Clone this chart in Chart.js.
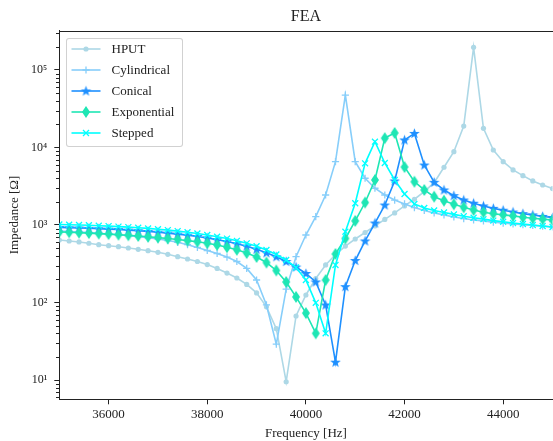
<!DOCTYPE html>
<html>
<head>
<meta charset="utf-8">
<script src="https://cdn.jsdelivr.net/npm/chart.js@4.4.1/dist/chart.umd.min.js"></script>
<style>
  html, body { margin: 0; padding: 0; background: #ffffff; overflow: hidden; width: 553px; height: 441px; }
  #wrap { position: relative; width: 558px; height: 441px; }
  #c { display: block; }
  #legend {
    position: absolute; left: 65.5px; top: 37.5px; width: 115px; height: 107px;
    border: 1px solid rgba(204,204,204,0.9); border-radius: 3px; background: rgba(255,255,255,0.85);
    font-family: 'Liberation Serif', serif; font-size: 13px; color: #222;
  }
  .row { position: absolute; left: 0; height: 16px; width: 115px; }
  .row canvas { position: absolute; left: 4px; top: 0; }
  .row span { position: absolute; left: 45px; top: 0; line-height: 16px; white-space: nowrap; }
</style>
</head>
<body>
<div id="wrap">
  <canvas id="c" width="558" height="441" style="width:558px;height:441px"></canvas>
  <div id="legend"></div>
</div>
<script>
// ---------------- data ----------------
const frequencies = [35000, 35200, 35400, 35600, 35800, 36000, 36200, 36400, 36600, 36800,
  37000, 37200, 37400, 37600, 37800, 38000, 38200, 38400, 38600, 38800,
  39000, 39200, 39400, 39600, 39800, 40000, 40200, 40400, 40600, 40800,
  41000, 41200, 41400, 41600, 41800, 42000, 42200, 42400, 42600, 42800,
  43000, 43200, 43400, 43600, 43800, 44000, 44200, 44400, 44600, 44800, 45000];

const seriesNames = ['HPUT', 'Cylindrical', 'Conical', 'Exponential', 'Stepped'];

const hput = [640, 622, 604, 581, 557, 541, 525, 505, 486, 466,
  444, 419, 390, 364, 338, 309, 275, 240, 207, 171,
  133, 88, 46, 9.5, 67, 125, 204, 305, 416, 535,
  660, 800, 970, 1180, 1430, 1760, 2150, 2690, 3520, 5560,
  8830, 18900, 196000, 17700, 9290, 6560, 5130, 4330, 3700, 3280, 2950];

const cylindrical = [837, 825, 813, 798, 782, 765, 748, 728, 707, 684,
  660, 631, 598, 557, 513, 469, 429, 386, 338, 275,
  195, 93, 29, 149, 390, 743, 1280, 2440, 6560, 47500,
  6560, 4010, 2980, 2440, 2100, 1870, 1680, 1540, 1430, 1350,
  1270, 1210, 1160, 1130, 1090, 1060, 1030, 1010, 986, 966, 942];

const conical = [929, 923, 915, 906, 896, 885, 873, 859, 844, 827,
  807, 786, 763, 738, 711, 680, 646, 611, 572, 531,
  486, 437, 389, 338, 287, 237, 184, 93, 17, 160,
  348, 622, 1060, 1810, 3700, 12500, 15200, 5940, 3560, 2830,
  2390, 2100, 1910, 1760, 1640, 1550, 1470, 1400, 1350, 1290, 1250];

const exponential = [813, 805, 796, 786, 774, 763, 750, 737, 722, 705,
  688, 670, 650, 629, 609, 582, 552, 517, 479, 435,
  387, 328, 259, 184, 118, 73, 40, 195, 423, 670,
  1130, 1950, 3810, 13200, 15400, 5600, 3620, 2830, 2320, 2060,
  1850, 1690, 1560, 1460, 1400, 1350, 1310, 1260, 1220, 1190, 1160];

const stepped = [1014, 1009, 1000, 991, 980, 968, 953, 939, 923, 904,
  883, 859, 834, 807, 777, 743, 706, 668, 625, 580,
  531, 476, 416, 353, 283, 195, 99, 40, 305, 820,
  1910, 6250, 11900, 6310, 3810, 2510, 1870, 1660, 1540, 1450,
  1370, 1300, 1240, 1190, 1140, 1100, 1060, 1030, 1000, 971, 942];

const xTickValues = [36000, 38000, 40000, 42000, 44000];
const yTickValues = [10, 100, 1000, 10000, 100000];
const yTickLabels = ['10\u00B9', '10\u00B2', '10\u00B3', '10\u2074', '10\u2075'];

const titleText = 'FEA';
const xTitle = 'Frequency [Hz]';
const yTitle = 'Impedance [\u03A9]';

// ---------------- styles ----------------
const colors = ['#add8e6', '#87cefa', '#1e90ff', '#1ee6b4', '#00ffff'];

function makeStar(color) {
  const c = document.createElement('canvas');
  c.width = 13; c.height = 13;
  const g = c.getContext('2d');
  const cx = 6.5, cy = 6.8, R = 5.6, r = 2.3;
  g.beginPath();
  for (let i = 0; i < 10; i++) {
    const a = -Math.PI / 2 + i * Math.PI / 5;
    const rad = i % 2 ? r : R;
    const px = cx + rad * Math.cos(a), py = cy + rad * Math.sin(a);
    if (i === 0) g.moveTo(px, py); else g.lineTo(px, py);
  }
  g.closePath();
  g.fillStyle = color; g.fill();
  return c;
}
function makeDiamond(color) {
  const c = document.createElement('canvas');
  c.width = 10; c.height = 14;
  const g = c.getContext('2d');
  g.beginPath();
  g.moveTo(5, 1); g.lineTo(9, 7); g.lineTo(5, 13); g.lineTo(1, 7); g.closePath();
  g.fillStyle = color; g.fill();
  return c;
}

const starImg = makeStar(colors[2]);
const diamondImg = makeDiamond(colors[3]);

const pointStyles = ['circle', 'cross', starImg, diamondImg, 'crossRot'];
const pointRadii = [2.6, 3.6, 5, 5, 4.2];
const seriesData = [hput, cylindrical, conical, exponential, stepped];

const datasets = seriesNames.map((name, i) => ({
  label: name,
  data: frequencies.map((f, k) => ({ x: f, y: seriesData[i][k] })),
  borderColor: colors[i],
  backgroundColor: colors[i],
  borderWidth: 1.6,
  pointStyle: pointStyles[i],
  pointRadius: pointRadii[i],
  pointBorderWidth: (i === 1 || i === 4) ? 1.3 : 0,
  pointBorderColor: colors[i],
  pointBackgroundColor: colors[i],
  tension: 0,
  order: 5 - i
}));

// ---------------- axis decorations (top spine, minor log ticks) ----------------
const axisDecor = {
  id: 'axisDecor',
  afterDraw(chart) {
    const { ctx, chartArea: a, scales } = chart;
    const y = scales.y;
    ctx.save();
    ctx.strokeStyle = '#222';
    ctx.lineWidth = 1;
    ctx.beginPath();
    const ty = Math.round(a.top) + 0.5;
    ctx.moveTo(Math.round(a.left), ty);
    ctx.lineTo(a.right + 4, ty);
    ctx.stroke();
    ctx.beginPath();
    for (let n = 0; n <= 5; n++) {
      for (let m = 2; m <= 9; m++) {
        const v = m * Math.pow(10, n);
        if (v > y.min && v < y.max) {
          const py = Math.round(y.getPixelForValue(v)) + 0.5;
          ctx.moveTo(Math.round(a.left) - 3, py);
          ctx.lineTo(Math.round(a.left), py);
        }
      }
    }
    ctx.stroke();
    ctx.restore();
  }
};

Chart.defaults.font.family = "'Liberation Serif', serif";
Chart.defaults.color = '#222';

new Chart(document.getElementById('c'), {
  type: 'line',
  data: { datasets },
  options: {
    responsive: false,
    animation: false,
    devicePixelRatio: 1,
    layout: { padding: { left: 0, right: 1.2, top: 0, bottom: 0 } },
    plugins: {
      legend: { display: false },
      tooltip: { enabled: false },
      title: {
        display: true,
        text: titleText,
        fullSize: false,
        color: '#222',
        font: { size: 16, weight: 'normal', lineHeight: 1.2 },
        padding: { top: 7, bottom: 4.5 }
      }
    },
    scales: {
      x: {
        type: 'linear',
        min: 35000,
        max: 45000,
        afterFit: s => { s.height = 41.7; },
        afterBuildTicks: s => { s.ticks = xTickValues.map(v => ({ value: v })); },
        grid: { drawOnChartArea: false, drawTicks: true, tickLength: 5, tickColor: '#222', tickWidth: 1 },
        border: { display: true, color: '#222', width: 1 },
        ticks: {
          autoSkip: false, maxRotation: 0, padding: 2, color: '#222',
          font: { size: 13 },
          callback: v => String(v)
        },
        title: {
          display: true, text: xTitle, color: '#222',
          font: { size: 13, lineHeight: 1.2 },
          padding: { top: 0, bottom: 0 }
        }
      },
      y: {
        type: 'logarithmic',
        min: 5.636,
        max: 321400,
        afterFit: s => { s.width = 59.3; },
        afterBuildTicks: s => { s.ticks = yTickValues.map(v => ({ value: v })); },
        grid: { drawOnChartArea: false, drawTicks: true, tickLength: 5, tickColor: '#222', tickWidth: 1 },
        border: { display: true, color: '#222', width: 1 },
        ticks: {
          autoSkip: false, padding: 7, color: '#222',
          font: { size: 12 },
          callback: v => {
            const i = yTickValues.indexOf(v);
            return i >= 0 ? yTickLabels[i] : '';
          }
        },
        title: {
          display: true, text: yTitle, color: '#222',
          font: { size: 13, lineHeight: 1.2 },
          padding: { top: 7, bottom: 0 }
        }
      }
    }
  },
  plugins: [axisDecor]
});

// ---------------- legend (HTML, matplotlib style) ----------------
const legend = document.getElementById('legend');
const rowCenters = [10.5, 31.5, 52.5, 73.5, 94.5];
seriesNames.forEach((name, i) => {
  const row = document.createElement('div');
  row.className = 'row';
  row.style.top = (rowCenters[i] - 8) + 'px';
  const cv = document.createElement('canvas');
  cv.width = 30; cv.height = 16;
  const g = cv.getContext('2d');
  g.strokeStyle = colors[i]; g.fillStyle = colors[i]; g.lineWidth = 1.6;
  g.beginPath(); g.moveTo(0.5, 8); g.lineTo(29.5, 8); g.stroke();
  const cx = 15, cy = 8;
  if (i === 0) { g.beginPath(); g.arc(cx, cy, 2.6, 0, Math.PI * 2); g.fill(); }
  else if (i === 1) { g.lineWidth = 1.3; g.beginPath(); g.moveTo(cx - 3.6, cy); g.lineTo(cx + 3.6, cy); g.moveTo(cx, cy - 3.6); g.lineTo(cx, cy + 3.6); g.stroke(); }
  else if (i === 2) { g.drawImage(starImg, cx - starImg.width / 2, cy - starImg.height / 2); }
  else if (i === 3) { g.drawImage(diamondImg, cx - diamondImg.width / 2, cy - diamondImg.height / 2); }
  else { g.lineWidth = 1.3; const d = 3; g.beginPath(); g.moveTo(cx - d, cy - d); g.lineTo(cx + d, cy + d); g.moveTo(cx - d, cy + d); g.lineTo(cx + d, cy - d); g.stroke(); }
  const sp = document.createElement('span');
  sp.textContent = name;
  row.appendChild(cv); row.appendChild(sp);
  legend.appendChild(row);
});
</script>
</body>
</html>
